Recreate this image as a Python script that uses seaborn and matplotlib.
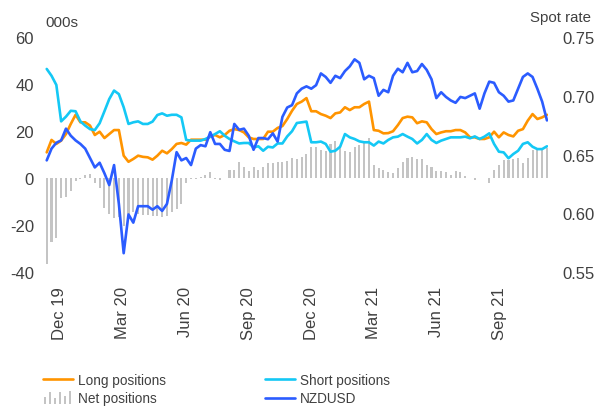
"""NZD positioning (long / short / net, 000s) against NZDUSD spot rate."""
import numpy as np
import pandas as pd
import matplotlib
matplotlib.use('Agg')
import matplotlib.pyplot as plt
import matplotlib.dates as mdates
from matplotlib.legend_handler import HandlerBase
from matplotlib.patches import Rectangle
from matplotlib.lines import Line2D
import seaborn as sns

start_date = '2019-11-12'
n_weeks = 105

long_pos = [
    10.9, 16.2, 14.5, 15.9, 18.7, 23.0, 26.9, 23.7, 23.7, 22.3, 18.3, 19.7, 17.0, 18.7, 20.4, 20.4, 9.5, 6.9, 8.1, 9.5, 9.0,
    8.8, 7.8, 9.5, 11.6, 10.5, 12.3, 14.5, 14.9, 14.2, 16.3, 16.3, 16.3, 16.3, 17.6, 18.3, 17.3, 18.3, 20.1, 20.8, 20.4, 19.4,
    17.3, 16.6, 16.6, 16.6, 19.7, 19.7, 21.3, 22.1, 25.1, 28.6, 31.5, 32.5, 34.0, 28.4, 28.4, 27.2, 26.5, 25.5, 27.5, 27.9, 30.1,
    28.9, 30.1, 30.1, 31.5, 32.5, 20.4, 20.1, 19.0, 19.1, 19.9, 22.5, 25.5, 26.1, 25.8, 23.3, 24.1, 23.7, 20.8, 18.7, 19.4, 19.9,
    19.9, 20.4, 20.4, 19.4, 17.3, 17.3, 16.6, 16.6, 17.3, 19.7, 17.3, 19.4, 18.3, 17.7, 20.1, 20.8, 24.4, 27.2, 25.1, 25.8, 26.9,
]
short_pos = [
    46.4, 43.5, 39.6, 24.1, 26.1, 28.6, 28.4, 24.1, 22.3, 20.8, 20.4, 23.3, 28.4, 33.6, 37.2, 35.7, 30.1, 23.0, 23.7, 24.1, 23.0,
    23.0, 24.0, 26.8, 27.5, 26.5, 26.9, 26.9, 25.8, 16.2, 15.9, 15.9, 15.9, 16.6, 17.6, 18.7, 19.9, 18.0, 16.6, 15.6, 14.7, 14.9,
    14.9, 13.0, 13.5, 11.6, 13.3, 13.0, 14.7, 14.7, 17.7, 19.9, 23.4, 23.7, 24.0, 15.2, 15.2, 15.5, 14.5, 11.2, 11.6, 13.3, 18.7,
    17.3, 16.6, 15.6, 15.2, 15.2, 13.8, 15.5, 14.7, 16.2, 17.3, 17.6, 18.7, 17.6, 16.6, 14.7, 16.2, 18.7, 16.2, 14.9, 15.9, 16.6,
    17.3, 17.3, 17.3, 17.6, 16.9, 17.7, 16.6, 17.6, 19.0, 14.5, 11.2, 10.9, 8.4, 10.2, 11.6, 14.5, 15.2, 13.3, 12.3, 12.3, 13.5,
]
net_pos = [
    -36.4, -27.4, -25.7, -8.6, -8.0, -5.4, -1.3, -0.6, 1.2, 1.7, -2.3, -4.4, -12.7, -15.2, -17.2, -16.7, -20.5, -15.3, -14.6, -15.3, -15.6,
    -15.6, -16.0, -16.3, -16.5, -16.0, -14.6, -13.2, -11.0, -2.0, -0.5, -0.3, 0.3, 1.2, 2.5, -0.5, -1.0, 0.0, 3.4, 3.5, 7.0, 4.5,
    3.0, 4.5, 3.2, 4.8, 6.2, 6.4, 6.7, 6.7, 7.4, 8.5, 8.1, 8.8, 10.2, 13.0, 13.0, 12.0, 11.6, 14.5, 15.6, 13.5, 11.3,
    10.9, 13.3, 14.2, 15.9, 16.9, 5.7, 4.3, 3.5, 2.6, 2.0, 4.1, 6.7, 8.3, 9.0, 8.1, 8.1, 5.5, 4.6, 3.0, 2.9, 2.7,
    1.4, 2.9, 2.5, 1.0, 0.2, -0.8, 0.0, 0.2, -2.3, 3.4, 5.7, 7.5, 7.8, 8.0, 8.5, 6.3, 8.5, 11.8, 12.0, 12.6, 12.8,
]
nzdusd = [
    0.645, 0.655, 0.660, 0.662, 0.672, 0.666, 0.662, 0.659, 0.655, 0.647, 0.639, 0.643, 0.634, 0.624, 0.641, 0.608, 0.566, 0.599, 0.592, 0.606, 0.606,
    0.606, 0.603, 0.606, 0.602, 0.608, 0.628, 0.652, 0.645, 0.647, 0.641, 0.655, 0.658, 0.657, 0.669, 0.659, 0.659, 0.654, 0.653, 0.676, 0.671, 0.672,
    0.666, 0.654, 0.664, 0.664, 0.663, 0.668, 0.661, 0.682, 0.690, 0.692, 0.702, 0.706, 0.708, 0.706, 0.709, 0.719, 0.716, 0.711, 0.717, 0.715, 0.721,
    0.725, 0.731, 0.728, 0.714, 0.717, 0.715, 0.700, 0.705, 0.703, 0.717, 0.723, 0.720, 0.728, 0.720, 0.721, 0.727, 0.722, 0.714, 0.698, 0.703, 0.699,
    0.696, 0.694, 0.699, 0.698, 0.700, 0.702, 0.689, 0.702, 0.712, 0.711, 0.703, 0.700, 0.695, 0.696, 0.706, 0.716, 0.719, 0.716, 0.706, 0.695, 0.679,
]
tick_dates = ['2019-12-01', '2020-03-01', '2020-06-01', '2020-09-01',
              '2020-12-01', '2021-03-01', '2021-06-01', '2021-09-01']
left_ticks = [-40, -20, 0, 20, 40, 60]
right_ticks = [0.55, 0.60, 0.65, 0.70, 0.75]

LONG_C = '#FF9400'
SHORT_C = '#14C8F5'
NZD_C = '#2B5CFF'
NET_C = '#C4C4C4'
TXT_C = '#404040'


class NetBarsHandler(HandlerBase):
    # little bar-chart glyph for the net positions entry
    def create_artists(self, legend, orig_handle, xdescent, ydescent,
                       width, height, fontsize, trans):
        hs = [0.55, 0.95, 0.45, 0.95, 0.6, 1.0]
        step = width / len(hs)
        arts = []
        for k, h in enumerate(hs):
            r = Rectangle((-xdescent + k * step + step * 0.3, -ydescent - 1),
                          step * 0.4, h * (height + 2),
                          facecolor=NET_C, edgecolor='none', transform=trans)
            arts.append(r)
        return arts


def main():
    sns.set_theme(style='white')
    plt.rcParams['font.family'] = ['Liberation Sans', 'DejaVu Sans']

    dates = pd.date_range(start_date, periods=n_weeks, freq='7D')
    df = pd.DataFrame({'date': dates, 'long': long_pos, 'short': short_pos,
                       'net': net_pos, 'nzdusd': nzdusd})

    fig = plt.figure(figsize=(6.02, 4.10), dpi=100)
    ax = fig.add_axes([45 / 602, 1 - 273 / 410, (548 - 45) / 602, (273 - 38) / 410])
    ax2 = ax.twinx()

    ax.bar(df['date'], df['net'], width=3.0, color=NET_C, linewidth=0, zorder=1)
    sns.lineplot(data=df, x='date', y='long', ax=ax, color=LONG_C, linewidth=1.9, zorder=3)
    sns.lineplot(data=df, x='date', y='short', ax=ax, color=SHORT_C, linewidth=1.9, zorder=3)
    sns.lineplot(data=df, x='date', y='nzdusd', ax=ax2, color=NZD_C, linewidth=1.9)

    ax.set_ylim(-40, 60)
    ax2.set_ylim(0.55, 0.75)
    ax.set_xlim(dates[0] - pd.Timedelta(days=2.5), dates[-1] + pd.Timedelta(days=1.5))

    ax.set_yticks(left_ticks)
    ax.set_yticklabels([str(t) for t in left_ticks])
    ax2.set_yticks(right_ticks)
    ax2.set_yticklabels([f'{t:.2f}' for t in right_ticks])
    ax.set_xticks(pd.to_datetime(tick_dates))
    ax.xaxis.set_major_formatter(mdates.DateFormatter('%b %y'))
    for lab in ax.get_xticklabels():
        lab.set_rotation(90)
        lab.set_ha('center')
        lab.set_va('top')

    for a in (ax, ax2):
        for s in a.spines.values():
            s.set_visible(False)
        a.set_xlabel('')
        a.set_ylabel('')
        a.grid(False)
        a.tick_params(length=0, labelsize=12, labelcolor=TXT_C)
    ax.tick_params(axis='y', pad=8)
    ax.tick_params(axis='x', pad=10)
    ax2.tick_params(axis='y', pad=10)

    fig.text(45 / 602, 1 - 23 / 410, '000s', fontsize=11, color=TXT_C, va='center', ha='left')
    fig.text(591 / 602, 1 - 18 / 410, 'Spot rate', fontsize=10.8, color=TXT_C, va='center', ha='right')

    handles = [Line2D([], [], color=LONG_C, lw=1.9),
               Rectangle((0, 0), 1, 1),
               Line2D([], [], color=SHORT_C, lw=1.9),
               Line2D([], [], color=NZD_C, lw=1.9)]
    labels = ['Long positions', 'Net positions', 'Short positions', 'NZDUSD']
    leg = fig.legend(handles, labels, ncol=2, loc='upper left',
                     bbox_to_anchor=(43 / 602, 1 - 374 / 410), frameon=False,
                     fontsize=9.8, handlelength=2.2, handletextpad=0.35,
                     columnspacing=7.3, labelspacing=0.32, borderpad=0,
                     borderaxespad=0,
                     handler_map={Rectangle: NetBarsHandler()})
    for t in leg.get_texts():
        t.set_color(TXT_C)

    fig.savefig('out.png', dpi=100)


if __name__ == '__main__':
    main()
